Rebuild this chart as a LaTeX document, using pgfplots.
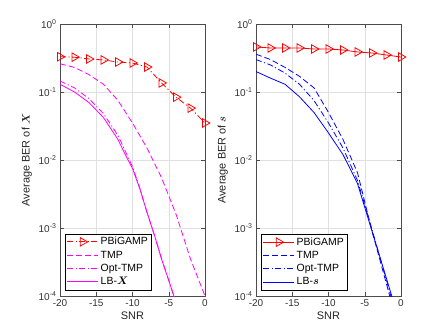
\documentclass[border=0pt]{standalone}
\usepackage{fontspec}
\setmainfont{Liberation Sans}
\usepackage{amsmath}
\usepackage{bm}
\usepackage{pgfplots}
\pgfplotsset{compat=1.18}

\definecolor{mred}{RGB}{255,0,0}
\definecolor{mmag}{RGB}{255,0,255}
\definecolor{mblue}{RGB}{0,0,255}

\tikzset{
  mdash/.style={dash pattern=on 6pt off 3pt},
  mdashdot/.style={dash pattern=on 6pt off 2.5pt on 1.2pt off 2.5pt},
}

\pgfplotsset{
  every axis/.append style={
    scale only axis, width=145bp, height=272bp,
    xmin=-20, xmax=0, ymin=1e-4, ymax=1,
    log basis y=10,
    xtick={-20,-15,...,0},
    ytick={1e-4,1e-3,1e-2,1e-1,1},
    tick label style={font=\fontsize{10}{11}\selectfont, color=black!80},
    label style={font=\fontsize{11}{12}\selectfont, color=black!85},
    xlabel={SNR},
    xlabel style={yshift=2pt},
    grid=both,
    major grid style={black!12, line width=0.4pt},
    minor grid style={black!25, dotted, line width=0.4pt},
    axis line style={black!70, line width=0.4pt},
    tick style={black!70},
    legend style={font=\fontsize{10.5}{12}\selectfont,
      inner sep=1.5pt, row sep=0.5pt, fill=white, at={(0.035,0.022)}, anchor=south west},
    legend cell align=left,
  },
  every axis plot/.append style={line width=0.8pt},
}
\pgfplotsset{
  legend image code/.code={\draw[mark repeat=2, mark phase=2, #1] plot coordinates {(0cm,0cm) (0.55cm,0cm) (1.1cm,0cm)};},
}

\begin{document}
\begin{tikzpicture}
\path (0,0) rectangle (443bp,332bp);

\begin{semilogyaxis}[at={(60bp,36bp)}, anchor=south west,
  xticklabel style={/pgf/number format/assume math mode=true},
  yticklabel={10\textsuperscript{\pgfmathprintnumber[assume math mode=true]{\tick}}},
  ylabel={Average BER of $\bm{X}$}]
\addplot[color=mred, mdashdot, mark=triangle, mark size=4.9pt, mark options={rotate=-90, solid}] coordinates {(-20,0.33) (-18,0.325) (-16,0.306) (-14,0.296) (-12,0.276) (-10,0.267) (-8,0.233) (-6,0.136) (-4,0.084) (-2,0.058) (0,0.035)};
\addplot[color=mmag, mdash] coordinates {(-20,0.26) (-18,0.23) (-16,0.18) (-14,0.13) (-12,0.075) (-10,0.035) (-8,0.015) (-6,0.0055) (-4,0.0016) (-2,0.00035) (0,0.0001)};
\addplot[color=mmag, mdashdot] coordinates {(-20,0.145) (-18,0.115) (-16,0.08) (-14,0.048) (-12,0.023) (-11,0.0135) (-10,0.008) (-9,0.0039) (-8,0.0017) (-7,0.0008) (-6,0.00036) (-5,0.00017) (-4,0.00008)};
\addplot[color=mmag, solid] coordinates {(-20,0.13) (-18,0.10) (-16,0.07) (-14,0.042) (-12,0.02) (-11,0.012) (-10,0.0075) (-9,0.0038) (-8,0.0017) (-7,0.0008) (-6,0.00035) (-5,0.00017) (-4,0.00008)};
\legend{PBiGAMP, TMP, Opt-TMP, LB-$\bm{X}$}
\end{semilogyaxis}

\begin{semilogyaxis}[at={(256bp,36bp)}, anchor=south west,
  xticklabel style={/pgf/number format/assume math mode=true},
  yticklabel={10\textsuperscript{\pgfmathprintnumber[assume math mode=true]{\tick}}},
  ylabel={Average BER of $\bm{s}$}]
\addplot[color=mred, solid, mark=triangle, mark size=4.9pt, mark options={rotate=-90, solid}] coordinates {(-20,0.46) (-18,0.444) (-16,0.444) (-14,0.444) (-12,0.429) (-10,0.429) (-8,0.415) (-6,0.388) (-4,0.375) (-2,0.35) (0,0.327)};
\addplot[color=mblue, mdash] coordinates {(-20,0.36) (-18,0.30) (-16,0.23) (-14,0.17) (-12,0.115) (-10,0.05) (-8,0.02) (-6,0.0065) (-4,0.0009) (-2,0.00015) (-1,0.00006)};
\addplot[color=mblue, mdashdot] coordinates {(-20,0.30) (-18,0.25) (-16,0.19) (-14,0.13) (-12,0.075) (-10,0.035) (-8,0.015) (-6,0.005) (-4,0.00095) (-2,0.00017) (-1,0.00007)};
\addplot[color=mblue, solid] coordinates {(-20,0.20) (-18,0.16) (-16,0.13) (-14,0.085) (-12,0.05) (-10,0.025) (-8,0.012) (-6,0.0045) (-4,0.0009) (-2,0.00018) (-1,0.00008)};
\legend{PBiGAMP, TMP, Opt-TMP, LB-$\bm{s}$}
\end{semilogyaxis}
\end{tikzpicture}
\end{document}
